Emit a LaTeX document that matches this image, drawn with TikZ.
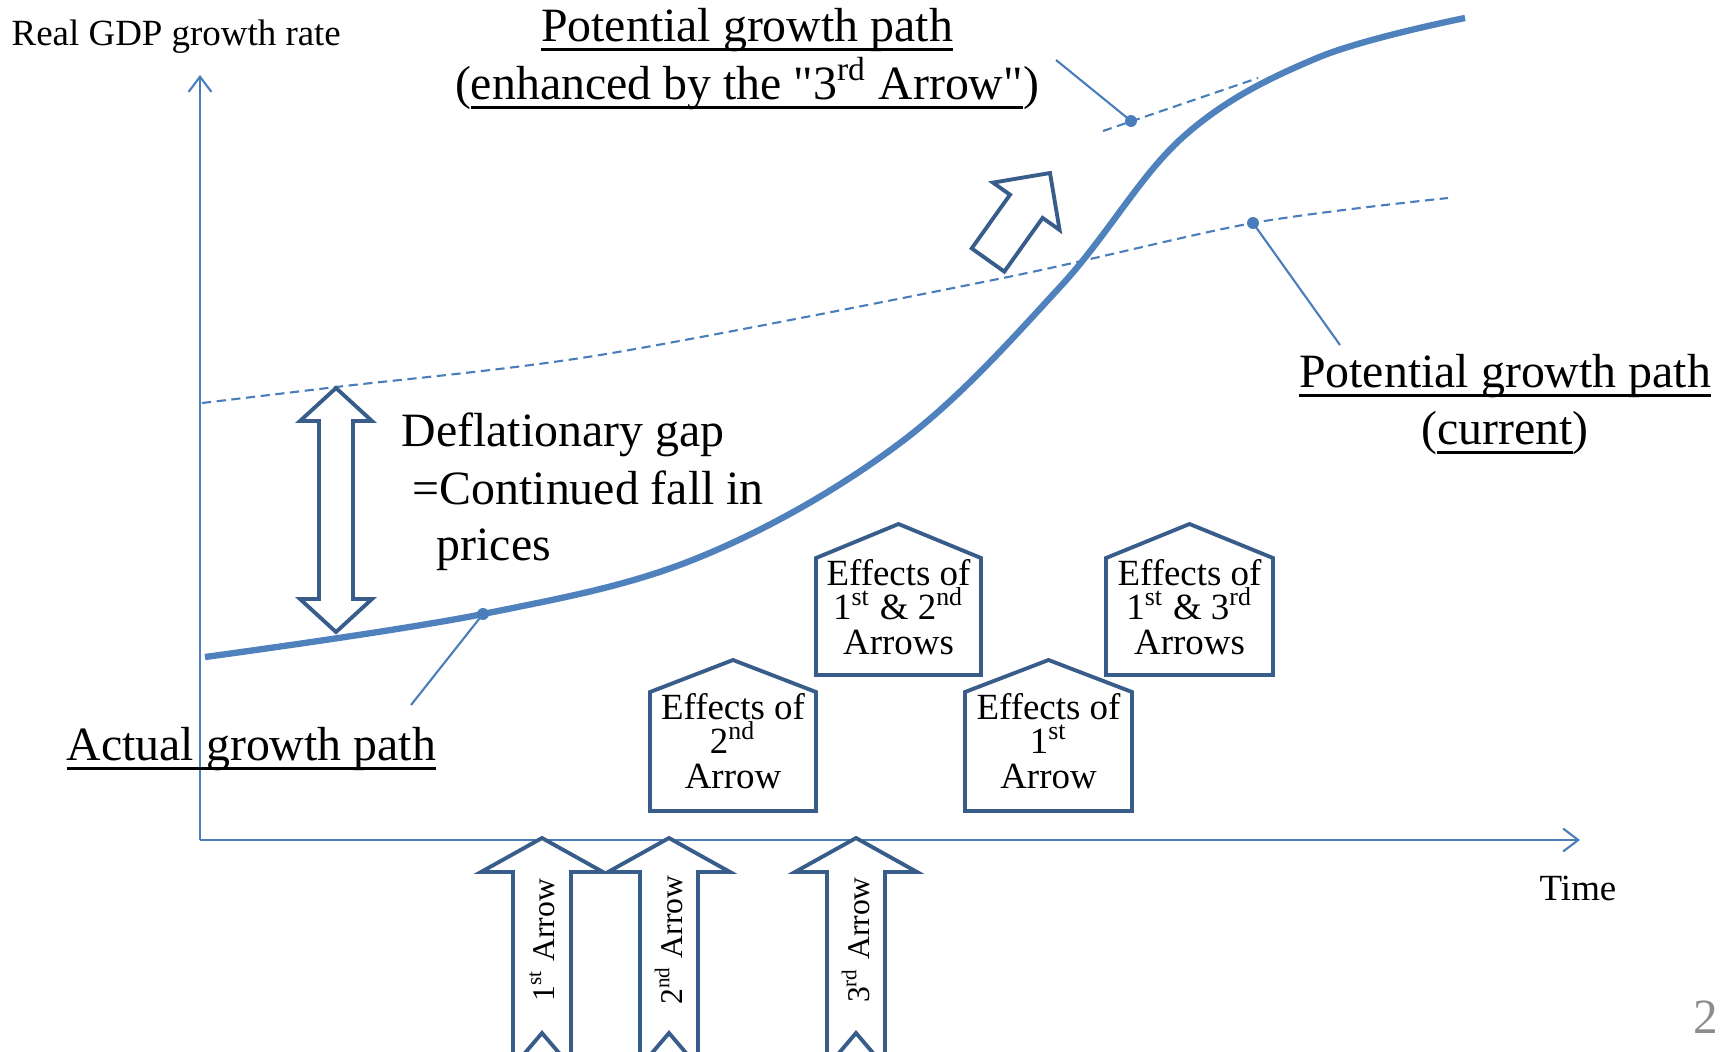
\documentclass[tikz,border=0pt]{standalone}
\usepackage{fontspec}
\setmainfont{Liberation Serif}
\newfontfamily\qtfont[Ligatures=TeXOff]{Liberation Serif}
\usetikzlibrary{arrows.meta}

\definecolor{lineblue}{HTML}{4A7EBB}
\definecolor{curveblue}{HTML}{4F81BD}
\definecolor{boxblue}{HTML}{385D8A}
\definecolor{pagegray}{HTML}{8C8C8C}
\newcommand{\ulbox}[1]{\setbox0\hbox{#1}\rlap{\rule[-2.8pt]{\wd0}{0.8pt}}\box0}
\newcommand{\dq}{{\qtfont"}}

\begin{document}
\begin{tikzpicture}
[x=0.01cm, y=-0.01cm, inner sep=0pt, font=\fontsize{13.6}{16.5}\selectfont]

\tikzstyle{axis}=[lineblue, line width=0.6pt, -{Straight Barb[length=4.3pt,width=6.5pt]}]
\tikzstyle{actual}=[curveblue, line width=1.8pt]
\tikzstyle{potential}=[lineblue, line width=0.6pt, dash pattern=on 2.6pt off 1.6pt]
\tikzstyle{leader}=[lineblue, line width=0.6pt]
\tikzstyle{dot}=[circle, fill=lineblue, inner sep=0pt, minimum size=3.4pt]
\tikzstyle{block}=[draw=boxblue, fill=white, line width=1.1pt, line join=miter]
\tikzstyle{effects}=[align=center, font=\fontsize{10.5}{9.9}\selectfont]
\tikzstyle{arrowtext}=[rotate=90, font=\fontsize{9}{10}\selectfont]
\tikzstyle{small}=[font=\fontsize{10.5}{12}\selectfont]

\useasboundingbox (0,0) rectangle (1728,1051);
\clip (0,0) rectangle (1728,1051);

% axes
\coordinate (O)    at (200,840);
\coordinate (ytip) at (200,75);
\coordinate (xtip) at (1580,840);
\draw[axis] (O) -- (ytip);
\draw[axis] (O) -- (xtip);
\node[small, anchor=base west]	(ylab)	at (11,45)	{Real GDP growth rate};
\node[small, anchor=base]	(xlab)	at (1578,900)	{Time};

% potential paths
\draw[potential] plot[smooth] coordinates {(202,403) (336,387) (600,355) (1003,278) (1253,223) (1448,198)};
\coordinate (E0) at (1103,131);
\coordinate (E1) at (1258,78);
\draw[potential] (E0) -- (E1);

% actual path
\draw[actual] plot[smooth, tension=0.6] coordinates {(205,657) (483,614) (700,557) (900,443)
  (1060,287) (1183,137) (1317,58) (1465,18)};

% dots and leaders
\node[dot]	(dotA)	at (483,614)	{};
\node[dot]	(dotP)	at (1253,223)	{};
\node[dot]	(dotE)	at (1131,121)	{};
\coordinate (endA) at (411,705);
\coordinate (endP) at (1340,345);
\coordinate (endE) at (1056,60);
\draw[leader] (dotA.center) -- (endA);
\draw[leader] (dotP.center) -- (endP);
\draw[leader] (dotE.center) -- (endE);

% labels
\node[anchor=base]	(pot1)	at (747,41)	{\ulbox{Potential growth path}};
\node[anchor=base]	(pot1b)	at (747,99)	{(\ulbox{enhanced by the \dq3\textsuperscript{rd} Arrow\dq})};
\node[anchor=base]	(pot2)	at (1505,387)	{\ulbox{Potential growth path}};
\node[anchor=base]	(pot2b)	at (1505,444)	{(\ulbox{current})};
\node[anchor=base west]	(gap1)	at (401,446)	{Deflationary gap};
\node[anchor=base west]	(gap2)	at (412,504)	{=Continued fall in};
\node[anchor=base west]	(gap3)	at (436,560)	{prices};
\node[anchor=base west]	(act)	at (66,760)	{\ulbox{Actual growth path}};
\node[anchor=base, pagegray, font=\fontsize{14}{16}\selectfont]	(pnum)	at (1706,1033)	{2};

% gap arrow
\draw[block] (336,388) -- (372,421) -- (353,421) -- (353,599) -- (372,599) -- (336,632)
  -- (300,599) -- (319,599) -- (319,421) -- (300,421) -- cycle;

% 3rd arrow lifts the potential path
\draw[block] (1050,173) -- (1059.6,230) -- (1042.6,217.9) -- (1004.3,271.6) -- (971.7,248.4)
  -- (1010,194.7) -- (993,182.6) -- cycle;

% the three arrows
\draw[block] (542,838) -- ++(61,34) -- ++(-32,0) -- ++(0,195) -- ++(-29,-34) -- ++(-29,34) -- ++(0,-195) -- ++(-32,0) -- cycle;
\draw[block] (669,838) -- ++(61,34) -- ++(-32,0) -- ++(0,195) -- ++(-29,-34) -- ++(-29,34) -- ++(0,-195) -- ++(-32,0) -- cycle;
\draw[block] (856,838) -- ++(61,34) -- ++(-32,0) -- ++(0,195) -- ++(-29,-34) -- ++(-29,34) -- ++(0,-195) -- ++(-32,0) -- cycle;
\node[arrowtext]	(arr1)	at (542,940)	{1\textsuperscript{st} Arrow};
\node[arrowtext]	(arr2)	at (669,940)	{2\textsuperscript{nd} Arrow};
\node[arrowtext]	(arr3)	at (856,940)	{3\textsuperscript{rd} Arrow};

% effects
\draw[block] (650,811) -- (650,692) -- (733,660) -- (816,692) -- (816,811) -- cycle;
\draw[block] (816,675) -- (816,558) -- (898.5,524) -- (981,558) -- (981,675) -- cycle;
\draw[block] (965,811) -- (965,692) -- (1048.5,660) -- (1132,692) -- (1132,811) -- cycle;
\draw[block] (1106,675) -- (1106,558) -- (1189.5,524) -- (1273,558) -- (1273,675) -- cycle;
\node[effects]	(effA)	at (733,741)	{Effects of\\2\textsuperscript{nd}\\Arrow};
\node[effects]	(effB)	at (898.5,607)	{Effects of\\1\textsuperscript{st} \& 2\textsuperscript{nd}\\Arrows};
\node[effects]	(effC)	at (1048.5,741)	{Effects of\\1\textsuperscript{st}\\Arrow};
\node[effects]	(effD)	at (1189.5,607)	{Effects of\\1\textsuperscript{st} \& 3\textsuperscript{rd}\\Arrows};
\end{tikzpicture}
\end{document}
